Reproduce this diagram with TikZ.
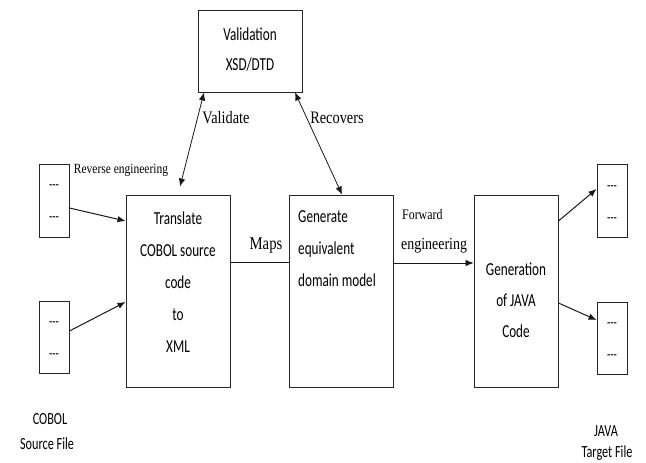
\documentclass[tikz,border=0pt]{standalone}
\usepackage{fontspec}
\setmainfont{Liberation Serif}[FakeStretch=0.82]
\newfontfamily\boxfont{Carlito}[FakeStretch=0.72]
\usetikzlibrary{arrows.meta,calc}
\begin{document}
\begin{tikzpicture}[x=1pt,y=-1pt,
  box/.style={draw=black!85,line width=0.9pt,inner sep=0pt,fill=none},
  btext/.style={inner sep=0pt,font=\boxfont\fontsize{18.3}{32}\selectfont},
  lbl/.style={inner sep=0pt,font=\fontsize{17.5}{20}\selectfont},
  conn/.style={line width=0.8pt,draw=black!90},
  arr/.style={conn,-{Latex[length=8pt,width=6.5pt]}},
  darr/.style={conn,{Latex[length=8pt,width=6.5pt]}-{Latex[length=8pt,width=6.5pt]}},
  dashtxt/.style={inner sep=0pt,font=\boxfont\fontsize{15}{18}\selectfont}]
\useasboundingbox (0,0) rectangle (646,463);
\fill[white] (0,0) rectangle (646,463);
% boxes
\node[box,minimum width=104,minimum height=82] (val) at (250,51) {};
\node[box,minimum width=104,minimum height=192] (trans) at (178,291) {};
\node[box,minimum width=104,minimum height=192] (gen) at (341,291) {};
\node[box,minimum width=84,minimum height=192] (java) at (516,291) {};
\node[box,minimum width=30,minimum height=73] (cf1) at (54,200.5) {};
\node[box,minimum width=30,minimum height=72] (cf2) at (54,337) {};
\node[box,minimum width=30,minimum height=73] (jf1) at (612,201) {};
\node[box,minimum width=30,minimum height=72] (jf2) at (612,338) {};
% box texts
\node[btext,align=center,font=\boxfont\fontsize{18.3}{30}\selectfont] (valt) at (250,50) {Validation\\XSD/DTD};
\node[btext,align=center] (transt) at (178,282) {Translate\\COBOL source\\code\\to\\XML};
\node[btext,align=left,anchor=west] (gent) at (298,249) {Generate\\equivalent\\domain model};
\node[btext,align=center,font=\boxfont\fontsize{18.3}{31}\selectfont] (javat) at (516,300) {Generation\\of JAVA\\Code};
% dashes
\node[dashtxt] (d1) at (54,187) {-{}-{}-};
\node[dashtxt] (d2) at (54,219) {-{}-{}-};
\node[dashtxt] (d3) at (54,324) {-{}-{}-};
\node[dashtxt] (d4) at (54,356) {-{}-{}-};
\node[dashtxt] (d5) at (612,188) {-{}-{}-};
\node[dashtxt] (d6) at (612,220) {-{}-{}-};
\node[dashtxt] (d7) at (612,325) {-{}-{}-};
\node[dashtxt] (d8) at (612,357) {-{}-{}-};
% file captions
\node[btext,font=\boxfont\fontsize{17}{20}\selectfont] (cobol) at (50,419) {COBOL};
\node[btext,font=\boxfont\fontsize{17}{20}\selectfont] (src) at (47,444) {Source File};
\node[btext,font=\boxfont\fontsize{17}{20}\selectfont] (javal) at (606,431) {JAVA};
\node[btext,font=\boxfont\fontsize{17}{20}\selectfont] (tgt) at (607,453) {Target File};
% labels
\node[lbl] (lval) at (226,118) {Validate};
\node[lbl] (lrec) at (337,118) {Recovers};
\node[lbl,font=\fontsize{14}{16}\selectfont] (lrev) at (121,170) {Reverse engineering};
\node[lbl,font=\fontsize{18}{20}\selectfont] (lmaps) at (266,246) {Maps};
\node[lbl,font=\fontsize{14.5}{16}\selectfont,anchor=west] (lfw) at (402,215) {Forward};
\node[lbl,font=\fontsize{17}{20}\selectfont,anchor=west] (leng) at (401,246) {engineering};
% connectors
\draw[arr,line width=1pt] ($(cf1.east)+(0,7.5)$) -- ($(trans.west)+(0,-70)$);
\draw[arr,line width=1pt] ($(cf2.east)+(0,-6)$) -- ($(trans.west)+(0,11)$);
\draw[arr,line width=1pt] ($(java.east)+(0,-70)$) -- ($(jf1.west)+(0,-12)$);
\draw[arr,line width=1pt] ($(java.east)+(0,12)$) -- ($(jf2.west)+(0,-18)$);
\draw[darr] ($(val.south)+(-46,0)$) -- ($(trans.north)+(2,-8)$);
\draw[darr] ($(val.south)+(45,0)$) -- ($(gen.north)+(1,0)$);
\draw[conn] ($(trans.east)+(0,-29)$) -- ($(gen.west)+(0,-29)$);
\draw[arr] ($(gen.east)+(0,-28)$) -- ($(java.west)+(0,-28)$);
\end{tikzpicture}
\end{document}
